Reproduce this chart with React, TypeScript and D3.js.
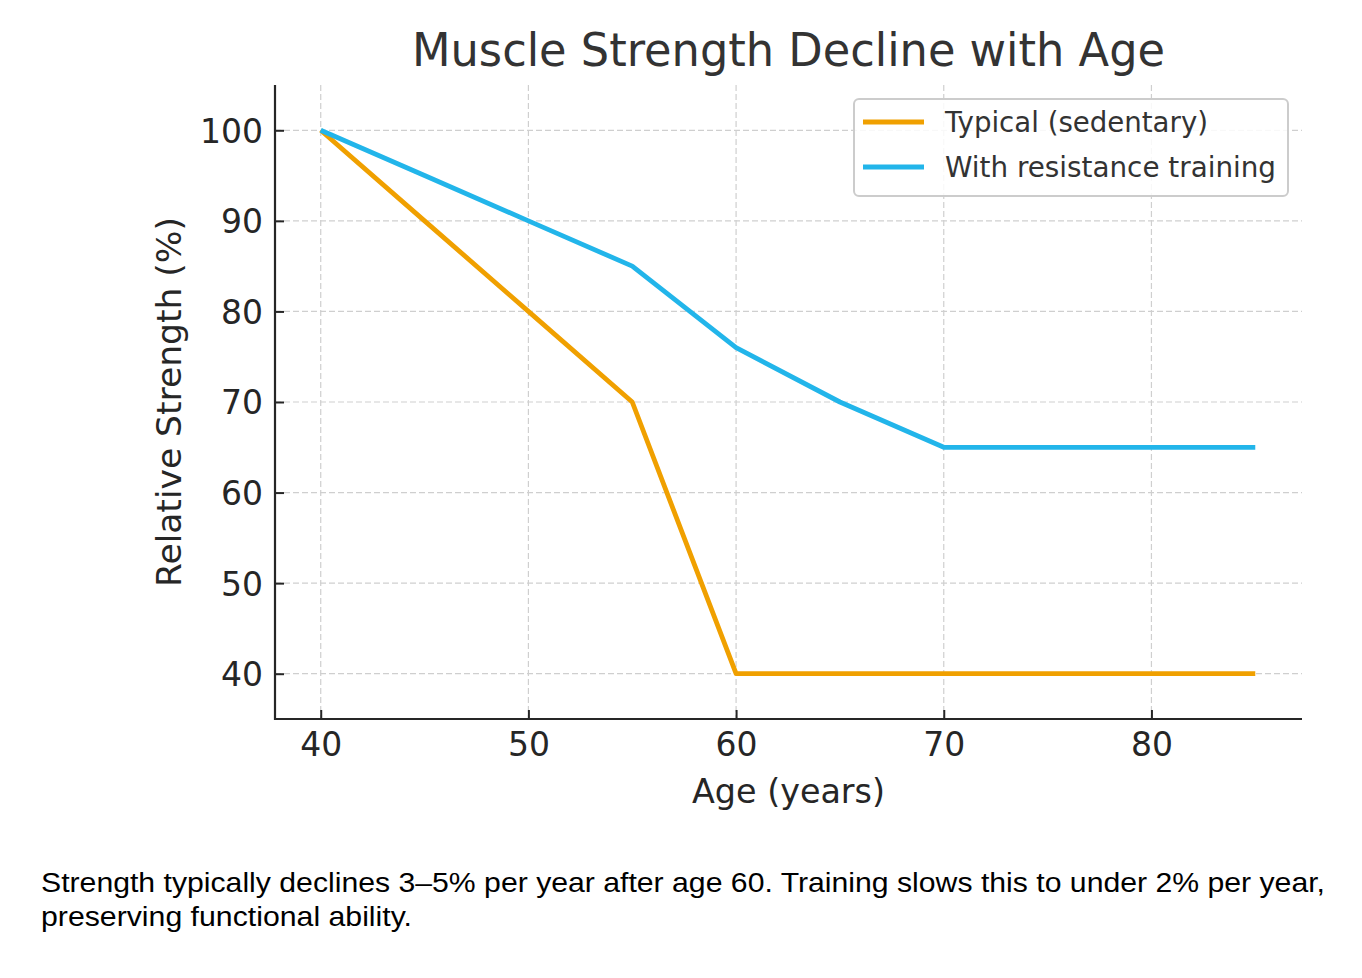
import React, { useEffect, useRef } from 'react';
import * as d3 from 'd3';

// Relative strength (%) by age for the two groups
const ages = [40, 45, 50, 55, 60, 65, 70, 75, 80, 85];
const typicalValues = [100, 90, 80, 70, 40, 40, 40, 40, 40, 40];
const trainingValues = [100, 95, 90, 85, 76, 70, 65, 65, 65, 65];

const xTicks = [40, 50, 60, 70, 80];
const yTicks = [40, 50, 60, 70, 80, 90, 100];

const seriesNames = ['Typical (sedentary)', 'With resistance training'];
const seriesColors = ['#f0a000', '#22b5ea'];

const captionLines = [
  'Strength typically declines 3–5% per year after age 60. Training slows this to under 2% per year,',
  'preserving functional ability.',
];

const FONT = '"DejaVu Sans", sans-serif';

const App = () => {
  const svgRef = useRef<SVGSVGElement>(null);

  useEffect(() => {
    const width = 1362;
    const height = 978;
    const plot = { left: 275, right: 1302, top: 85, bottom: 719 };

    const root = d3.select(svgRef.current);
    root.selectAll('*').remove();
    root.attr('width', width).attr('height', height);

    const svg = root.append('g');

    const x = d3.scaleLinear().domain([37.75, 87.25]).range([plot.left - 1, plot.right]);
    const y = d3.scaleLinear().domain([35, 105]).range([plot.bottom, plot.top]);

    // Dashed grid
    const grid = svg.append('g')
      .attr('stroke', '#cfcfcf')
      .attr('stroke-width', 1.2)
      .attr('stroke-dasharray', '6,3');
    grid.selectAll('line.v')
      .data(xTicks)
      .enter()
      .append('line')
      .attr('x1', d => x(d))
      .attr('x2', d => x(d))
      .attr('y1', plot.top)
      .attr('y2', plot.bottom);
    grid.selectAll('line.h')
      .data(yTicks)
      .enter()
      .append('line')
      .attr('x1', plot.left)
      .attr('x2', plot.right)
      .attr('y1', d => y(d))
      .attr('y2', d => y(d));

    // Series lines
    const series = [typicalValues, trainingValues];
    const line = d3.line<number>()
      .x((_, i) => x(ages[i]))
      .y(d => y(d));
    series.forEach((values, i) => {
      svg.append('path')
        .datum(values)
        .attr('d', line)
        .attr('fill', 'none')
        .attr('stroke', seriesColors[i])
        .attr('stroke-width', 4.8)
        .attr('stroke-linejoin', 'round');
    });

    // Axes: ticks point inward, only left and bottom spines
    const xAxis = svg.append('g')
      .attr('transform', `translate(0,${plot.bottom})`)
      .call(d3.axisBottom(x).tickValues(xTicks).tickSize(-9).tickPadding(22).tickSizeOuter(0));
    const yAxis = svg.append('g')
      .attr('transform', `translate(${plot.left},0)`)
      .call(d3.axisLeft(y).tickValues(yTicks).tickSize(-9).tickPadding(21).tickSizeOuter(0));

    [xAxis, yAxis].forEach(axis => {
      axis.select('.domain').remove();
      axis.selectAll('.tick line').attr('stroke', '#262626').attr('stroke-width', 2);
      axis.selectAll('.tick text')
        .attr('fill', '#262626')
        .attr('font-family', FONT)
        .attr('font-size', 33);
    });
    xAxis.selectAll('.tick text').attr('dy', '0.71em').attr('y', 14);
    yAxis.selectAll('.tick text').attr('x', -12).attr('dy', '0.36em');

    svg.append('line')
      .attr('x1', plot.left).attr('x2', plot.left)
      .attr('y1', plot.top).attr('y2', plot.bottom + 1)
      .attr('stroke', '#262626').attr('stroke-width', 2.2);
    svg.append('line')
      .attr('x1', plot.left - 1).attr('x2', plot.right)
      .attr('y1', plot.bottom).attr('y2', plot.bottom)
      .attr('stroke', '#262626').attr('stroke-width', 2.2);

    // Title and axis labels
    svg.append('text')
      .attr('x', (plot.left + plot.right) / 2)
      .attr('y', 66)
      .attr('text-anchor', 'middle')
      .attr('font-family', FONT)
      .attr('font-size', 46)
      .attr('fill', '#333')
      .attr('textLength', 753)
      .attr('lengthAdjust', 'spacingAndGlyphs')
      .text('Muscle Strength Decline with Age');

    svg.append('text')
      .attr('x', (plot.left + plot.right) / 2)
      .attr('y', 803)
      .attr('text-anchor', 'middle')
      .attr('font-family', FONT)
      .attr('font-size', 34)
      .attr('fill', '#262626')
      .attr('textLength', 193)
      .attr('lengthAdjust', 'spacingAndGlyphs')
      .text('Age (years)');

    svg.append('text')
      .attr('transform', `translate(181,${(plot.top + plot.bottom) / 2}) rotate(-90)`)
      .attr('text-anchor', 'middle')
      .attr('font-family', FONT)
      .attr('font-size', 34.5)
      .attr('fill', '#262626')
      .text('Relative Strength (%)');

    // Legend
    const legend = svg.append('g').attr('transform', 'translate(854,99)');
    legend.append('rect')
      .attr('width', 434)
      .attr('height', 97)
      .attr('rx', 5)
      .attr('fill', 'rgba(255,255,255,0.85)')
      .attr('stroke', '#cccccc')
      .attr('stroke-width', 2);
    seriesNames.forEach((name, i) => {
      const cy = 23 + i * 45;
      legend.append('line')
        .attr('x1', 9).attr('x2', 70)
        .attr('y1', cy).attr('y2', cy)
        .attr('stroke', seriesColors[i])
        .attr('stroke-width', 4.8);
      legend.append('text')
        .attr('x', 91)
        .attr('y', cy)
        .attr('dy', '0.35em')
        .attr('font-family', FONT)
        .attr('font-size', 28)
        .attr('fill', '#333')
        .attr('textLength', i === 0 ? 263 : 331)
        .attr('lengthAdjust', 'spacingAndGlyphs')
        .text(name);
    });

    // Caption below the chart
    svg.selectAll('text.caption')
      .data(captionLines)
      .enter()
      .append('text')
      .attr('class', 'caption')
      .attr('x', 41)
      .attr('y', (_, i) => 892 + i * 34)
      .attr('font-family', '"Liberation Sans", Arial, sans-serif')
      .attr('font-size', 27.5)
      .attr('fill', '#000')
      .attr('textLength', (_, i) => (i === 0 ? 1284 : 371))
      .attr('lengthAdjust', 'spacingAndGlyphs')
      .text(d => d);
  }, []);

  return <svg ref={svgRef} style={{ position: 'absolute', left: 0, top: 0, background: '#fff' }}></svg>;
};

export default App;
